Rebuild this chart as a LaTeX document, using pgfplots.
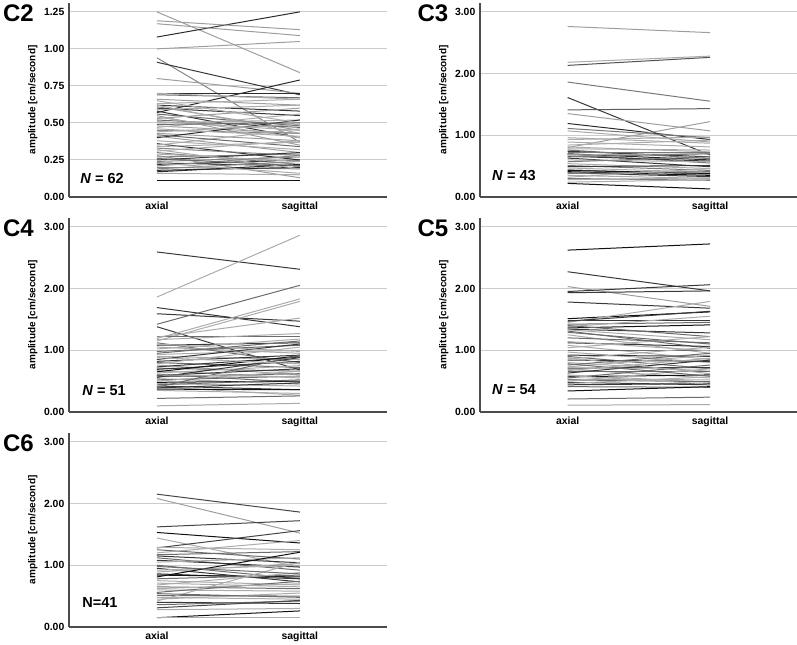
\documentclass[border=0pt]{standalone}
\usepackage{fontspec}
\setmainfont{Liberation Sans}
\usepackage{pgfplots}
\usepackage{pgfplotstable}
\pgfplotsset{compat=1.18}

% a = axial, s = sagittal, g = grey level (percent black)
\pgfplotstableread{
a s g
1.25 0.84 30
1.08 1.25 75
1.19 1.13 30
1.17 1.09 30
1.00 1.05 30
0.94 0.37 40
0.91 0.69 70
0.80 0.70 30
0.57 0.79 75
0.70 0.70 75
0.69 0.67 50
0.66 0.62 30
0.62 0.58 70
0.61 0.45 30
0.60 0.55 70
0.58 0.40 70
0.56 0.48 50
0.55 0.35 30
0.53 0.60 30
0.52 0.47 50
0.50 0.52 25
0.48 0.43 30
0.47 0.56 25
0.45 0.43 40
0.43 0.38 30
0.40 0.52 75
0.41 0.30 30
0.36 0.25 75
0.35 0.46 25
0.33 0.28 40
0.31 0.38 25
0.30 0.22 40
0.28 0.13 30
0.27 0.29 40
0.25 0.30 70
0.24 0.27 40
0.23 0.21 75
0.22 0.25 70
0.21 0.28 40
0.20 0.19 40
0.19 0.24 40
0.18 0.20 75
0.17 0.22 75
0.16 0.15 25
0.11 0.11 85
0.63 0.66 25
0.65 0.50 25
0.59 0.62 25
0.54 0.40 25
0.51 0.45 25
0.49 0.50 50
0.46 0.41 25
0.44 0.49 25
0.42 0.34 50
0.38 0.32 25
0.34 0.37 25
0.32 0.19 25
0.29 0.24 25
0.26 0.21 50
0.62 0.43 25
0.70 0.66 25
0.23 0.16 25
}\tabCtwo

\pgfplotstableread{
a s g
2.76 2.66 30
2.18 2.28 25
2.13 2.26 60
1.86 1.55 45
1.61 0.68 70
1.41 1.43 55
1.35 1.07 30
1.19 0.93 75
1.11 0.96 45
1.07 0.89 25
0.80 1.22 30
0.96 0.87 25
0.89 0.81 25
0.81 0.73 25
0.78 0.76 25
0.76 0.62 45
0.74 0.65 70
0.72 0.72 45
0.70 0.60 75
0.69 0.55 45
0.68 0.70 25
0.66 0.58 70
0.65 0.70 45
0.63 0.49 70
0.60 0.57 25
0.57 0.65 45
0.54 0.46 25
0.51 0.43 45
0.49 0.51 70
0.47 0.40 25
0.44 0.37 45
0.43 0.38 85
0.41 0.35 85
0.39 0.33 70
0.38 0.41 45
0.35 0.30 25
0.32 0.46 25
0.30 0.27 45
0.28 0.31 25
0.24 0.28 25
0.22 0.13 85
0.84 0.92 25
0.93 0.97 25
}\tabCthree

\pgfplotstableread{
a s g
2.59 2.31 70
1.86 2.86 25
1.69 1.38 70
1.59 1.47 70
1.42 2.05 50
1.38 0.68 70
1.19 1.83 25
1.15 1.79 25
1.22 1.22 50
1.21 1.52 25
1.17 1.27 25
1.12 0.80 50
1.08 1.12 70
1.05 0.95 25
1.02 1.18 25
0.98 1.08 50
0.93 1.00 25
0.90 0.85 25
0.85 1.10 70
0.82 0.92 70
0.80 0.72 50
0.78 1.05 25
0.76 0.60 25
0.73 0.89 70
0.71 0.66 50
0.69 0.82 70
0.67 0.55 25
0.65 0.91 85
0.63 0.75 25
0.61 0.48 50
0.59 0.70 70
0.57 0.62 50
0.56 0.88 70
0.54 0.45 25
0.52 0.58 50
0.50 0.66 25
0.48 0.50 85
0.46 0.42 25
0.44 0.52 50
0.42 0.36 70
0.41 0.27 25
0.40 0.92 50
0.39 0.47 70
0.37 0.36 85
0.35 0.30 25
0.22 0.26 50
0.10 0.14 25
1.10 0.98 25
0.88 0.78 25
0.95 1.15 50
0.60 0.57 25
}\tabCfour

\pgfplotstableread{
a s g
2.62 2.72 85
2.27 1.96 70
2.03 1.71 30
1.95 2.06 70
1.93 1.96 70
1.78 1.68 70
1.51 1.62 85
1.48 1.48 70
1.45 1.79 25
1.42 1.45 50
1.36 1.41 85
1.34 1.28 70
1.31 1.03 50
1.38 1.55 25
1.33 1.17 25
1.29 1.10 50
1.25 0.95 25
1.40 1.22 50
1.12 1.06 70
1.08 0.85 25
1.04 1.22 25
1.00 1.00 50
0.97 0.80 25
0.92 0.90 70
0.90 0.70 50
0.86 1.05 25
0.84 0.82 70
0.80 0.66 25
0.76 0.95 50
0.73 0.92 25
0.71 0.72 70
0.69 0.55 25
0.65 0.65 50
0.63 0.84 70
0.60 0.48 25
0.57 0.60 85
0.55 0.76 50
0.53 0.52 25
0.52 0.49 50
0.50 0.70 25
0.48 0.44 70
0.46 0.57 25
0.44 0.46 70
0.41 0.40 50
0.34 0.41 85
0.21 0.24 50
0.11 0.12 25
1.47 1.63 70
1.14 0.99 25
0.88 0.62 25
0.78 0.58 50
0.67 0.87 25
0.59 0.45 25
1.20 1.12 50
}\tabCfive

\pgfplotstableread{
a s g
2.15 1.86 65
2.08 1.52 30
1.62 1.72 65
1.53 1.36 85
1.44 0.97 25
1.28 1.56 65
1.29 1.25 25
1.25 1.10 50
1.17 1.22 50
1.15 1.04 70
1.12 0.92 50
1.08 0.97 70
1.05 1.12 25
1.00 0.78 50
0.95 0.73 70
0.92 1.00 25
0.89 1.03 25
0.86 0.78 70
0.84 0.81 85
0.81 1.21 85
0.78 0.84 50
0.75 0.68 25
0.71 0.65 25
0.68 0.88 25
0.65 0.62 50
0.60 0.58 25
0.56 0.74 50
0.51 0.50 50
0.48 0.45 25
0.45 0.55 25
0.42 1.05 25
0.40 0.38 70
0.36 0.42 50
0.31 0.43 65
0.28 0.30 25
0.15 0.26 85
0.15 0.15 25
1.20 1.40 25
0.98 0.86 50
0.62 0.70 25
0.54 0.48 50
}\tabCsix

% one line per subject, from axial (x=1) to sagittal (x=2)
\newcommand\pairlines[1]{%
  \pgfplotstablegetrowsof{#1}%
  \pgfmathtruncatemacro\lastrow{\pgfplotsretval-1}%
  \pgfplotsforeachungrouped \rowi in {0,...,\lastrow}{%
    \pgfplotstablegetelem{\rowi}{a}\of{#1}\let\va\pgfplotsretval
    \pgfplotstablegetelem{\rowi}{s}\of{#1}\let\vs\pgfplotsretval
    \pgfplotstablegetelem{\rowi}{g}\of{#1}\let\vg\pgfplotsretval
    \pgfmathtruncatemacro\vg{\vg+8}%
    \edef\next{\noexpand\addplot[draw=black!\vg, line width=0.75pt] coordinates {(1,\va) (2,\vs)};}%
    \next
  }%
}

\pgfplotsset{
  panel/.style={
    scale only axis,
    width=238.5pt, height=145.5pt,
    anchor=south west,
    clip=false,
    axis x line*=bottom, axis y line*=left,
    axis line style={draw=black!70, line width=1.4pt},
    xmin=0.385, xmax=2.61, ymin=0,
    xtick={1,2}, xticklabels={axial,sagittal},
    major tick length=0pt,
    ymajorgrids,
    grid style={draw=black!20, line width=0.8pt},
    ylabel={amplitude [cm/second]},
    ylabel style={font=\bfseries\fontsize{7.5}{9}\selectfont, yshift=-2pt},
    tick label style={font=\bfseries\fontsize{7.8}{9}\selectfont},
    /pgf/number format/assume math mode=true,
    yticklabel style={/pgf/number format/.cd, fixed, fixed zerofill, precision=2},
  },
  big/.style={ymax=3.14, ytick={0,1,2,3}},
}
\tikzset{
  plab/.style={anchor=north west, inner sep=0pt, font=\bfseries\fontsize{18}{18}\selectfont},
  nlab/.style={anchor=west, inner sep=0pt, font=\bfseries\fontsize{10.9}{12}\selectfont},
}

\begin{document}
\begin{tikzpicture}
\useasboundingbox (0,0) rectangle (597.75pt,483.75pt);

\begin{axis}[panel, at={(51.75pt,336pt)}, ymax=1.31, ytick={0,0.25,...,1.25}]
\pairlines{\tabCtwo}
\node[plab] at (rel axis cs:-0.208,0.99) {C2};
\node[nlab] at (axis cs:0.462,0.128) {\textit{N} = 62};
\end{axis}

\begin{axis}[panel, big, at={(360pt,336pt)}, width=237.75pt]
\pairlines{\tabCthree}
\node[plab] at (rel axis cs:-0.198,0.99) {C3};
\node[nlab] at (axis cs:0.469,0.34) {\textit{N} = 43};
\end{axis}

\begin{axis}[panel, big, at={(51.75pt,174.75pt)}]
\pairlines{\tabCfour}
\node[plab] at (rel axis cs:-0.208,0.99) {C4};
\node[nlab] at (axis cs:0.476,0.345) {\textit{N} = 51};
\end{axis}

\begin{axis}[panel, big, at={(360pt,174.75pt)}, width=237.75pt]
\pairlines{\tabCfive}
\node[plab] at (rel axis cs:-0.198,0.99) {C5};
\node[nlab] at (axis cs:0.469,0.37) {\textit{N} = 54};
\end{axis}

\begin{axis}[panel, big, at={(51.75pt,13.5pt)}]
\pairlines{\tabCsix}
\node[plab] at (rel axis cs:-0.208,0.99) {C6};
\node[nlab] at (axis cs:0.476,0.39) {N=41};
\end{axis}
\end{tikzpicture}
\end{document}
